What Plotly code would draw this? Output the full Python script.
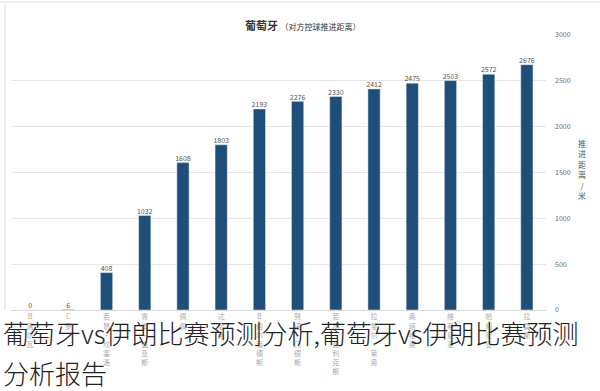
import plotly.graph_objects as go

players = ["B席尔瓦", "C罗", "若昂·坎塞洛", "鲁本·迪亚斯", "佩佩", "达尼洛",
           "B费尔南德斯", "努诺·门德斯", "若昂·费利克斯", "拉斐尔·莱奥",
           "奥塔维奥", "维蒂尼亚", "帕利尼亚", "拉莫斯"]
distance = [0, 6, 408, 1032, 1608, 1803, 2193, 2276, 2330, 2412, 2475, 2503, 2572, 2676]
y_ticks = [0, 500, 1000, 1500, 2000, 2500, 3000]

def vert(s):
    return "<br>".join(list(s))

xs = list(range(len(players)))
fig = go.Figure()
fig.add_trace(go.Bar(
    x=xs, y=distance,
    marker_color="#1f4e79",
    hoverinfo="skip",
))
fig.add_trace(go.Scatter(
    x=xs, y=distance, mode="text",
    text=[str(v) for v in distance],
    textposition="top center",
    textfont=dict(size=7, color="#555555"),
    cliponaxis=False, hoverinfo="skip",
))

fig.update_layout(
    width=600, height=391,
    margin=dict(l=11, r=54, t=35, b=81, autoexpand=False),
    paper_bgcolor="white", plot_bgcolor="white",
    bargap=0.68,
    showlegend=False,
    font=dict(family="Noto Sans CJK SC", color="#666666"),
    xaxis=dict(
        tickmode="array", tickvals=xs,
        ticktext=[vert(p) for p in players],
        tickfont=dict(size=7, color="#aaaaaa"),
        range=[-0.5, len(players) - 0.5],
        showline=True, linecolor="#d9d9d9", ticks="",
        showgrid=False, automargin=False,
    ),
    yaxis=dict(
        side="right", range=[0, 3000], tickvals=y_ticks,
        tickfont=dict(size=7, color="#666666"),
        showgrid=True, gridcolor="#e6e6e6", zeroline=False,
        ticks="", ticklabelstandoff=8, automargin=False,
    ),
)

# title
fig.add_annotation(
    text="<b>葡萄牙</b> <span style='font-size:8px'>（对方控球推进距离）</span>",
    xref="paper", yref="paper", x=0.545, y=1.0, yshift=20,
    showarrow=False, font=dict(size=11, color="#333333"),
)
# y-axis title
fig.add_annotation(
    text=vert("推进距离/米"),
    xref="paper", yref="paper", x=1.0, y=0.51, xshift=42,
    showarrow=False, font=dict(size=8, color="#555555"),
)
# frame lines
fig.add_shape(type="line", xref="paper", yref="paper",
              x0=-0.0112, x1=-0.0112, y0=0.0, y1=1.12,
              line=dict(color="#dddddd", width=1))
fig.add_shape(type="line", xref="paper", yref="paper",
              x0=-0.03, x1=1.11, y0=1.12, y1=1.12,
              line=dict(color="#dddddd", width=1))
# overlay caption
cap_font = dict(size=26, color="#222222", family="Noto Sans CJK SC", weight=300)
fig.add_annotation(
    text="葡萄牙vs伊朗比赛预测分析,葡萄牙vs伊朗比赛预测",
    xref="paper", yref="paper", x=0, xanchor="left", xshift=-10,
    y=0, yanchor="middle", yshift=-22, align="left",
    showarrow=False, font=cap_font,
)
fig.add_annotation(
    text="分析报告",
    xref="paper", yref="paper", x=0, xanchor="left", xshift=-10,
    y=0, yanchor="middle", yshift=-62, align="left",
    showarrow=False, font=cap_font,
)

fig.write_html("out.html", config={"displayModeBar": False},
               post_script="document.body.style.margin='0';")
